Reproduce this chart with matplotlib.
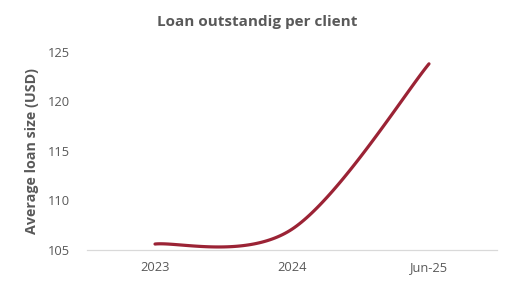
import numpy as np
import matplotlib
matplotlib.use("Agg")
import matplotlib.pyplot as plt

categories = ["2023", "2024", "Jun-25"]
values = [105.6, 107.1, 123.8]
y_ticks = [105, 110, 115, 120, 125]

title = "Loan outstandig per client"
ylabel = "Average loan size (USD)"
line_color = "#9B2335"
text_color = "#595959"

plt.rcParams['font.family'] = ['Open Sans', 'DejaVu Sans']

def excel_smooth(xs, ys, n=60):
    pts = np.column_stack([xs, ys]).astype(float)
    out = []
    m = len(pts)
    for i in range(m - 1):
        p0 = pts[max(i - 1, 0)]
        p1 = pts[i]
        p2 = pts[i + 1]
        p3 = pts[min(i + 2, m - 1)]
        c1 = p1 + (p2 - p0) / 6.0
        c2 = p2 - (p3 - p1) / 6.0
        t = np.linspace(0, 1, n)[:, None]
        seg = ((1 - t) ** 3) * p1 + 3 * ((1 - t) ** 2) * t * c1 + 3 * (1 - t) * t ** 2 * c2 + t ** 3 * p2
        out.append(seg if i == 0 else seg[1:])
    out = np.vstack(out)
    return out[:, 0], out[:, 1]

fig = plt.figure(figsize=(5.15, 2.87), dpi=100)
ax = fig.add_axes([0.168, 0.129, 0.798, 0.690])

x = np.arange(len(categories))
sx, sy = excel_smooth(x, values)
ax.plot(sx, sy, color=line_color, lw=2.3, solid_capstyle='round', clip_on=False)

ax.set_xlim(-0.5, len(categories) - 0.5)
ax.set_ylim(105, 125)
ax.set_xticks(x)
ax.set_xticklabels(categories)
ax.set_yticks(y_ticks)
ax.tick_params(axis='both', length=0, colors=text_color, labelsize=9.3)
ax.tick_params(axis='x', pad=8)
ax.tick_params(axis='y', pad=12)
for s in ['top', 'right', 'left']:
    ax.spines[s].set_visible(False)
ax.spines['bottom'].set_color('#D9D9D9')
ax.spines['bottom'].set_linewidth(0.9)

ax.set_ylabel(ylabel, color=text_color, fontsize=10.3, fontweight='bold', labelpad=6)
fig.text(0.5, 0.925, title, ha='center', va='center', color=text_color, fontsize=11, fontweight='bold')

fig.savefig("out.png", dpi=100, facecolor='white')
